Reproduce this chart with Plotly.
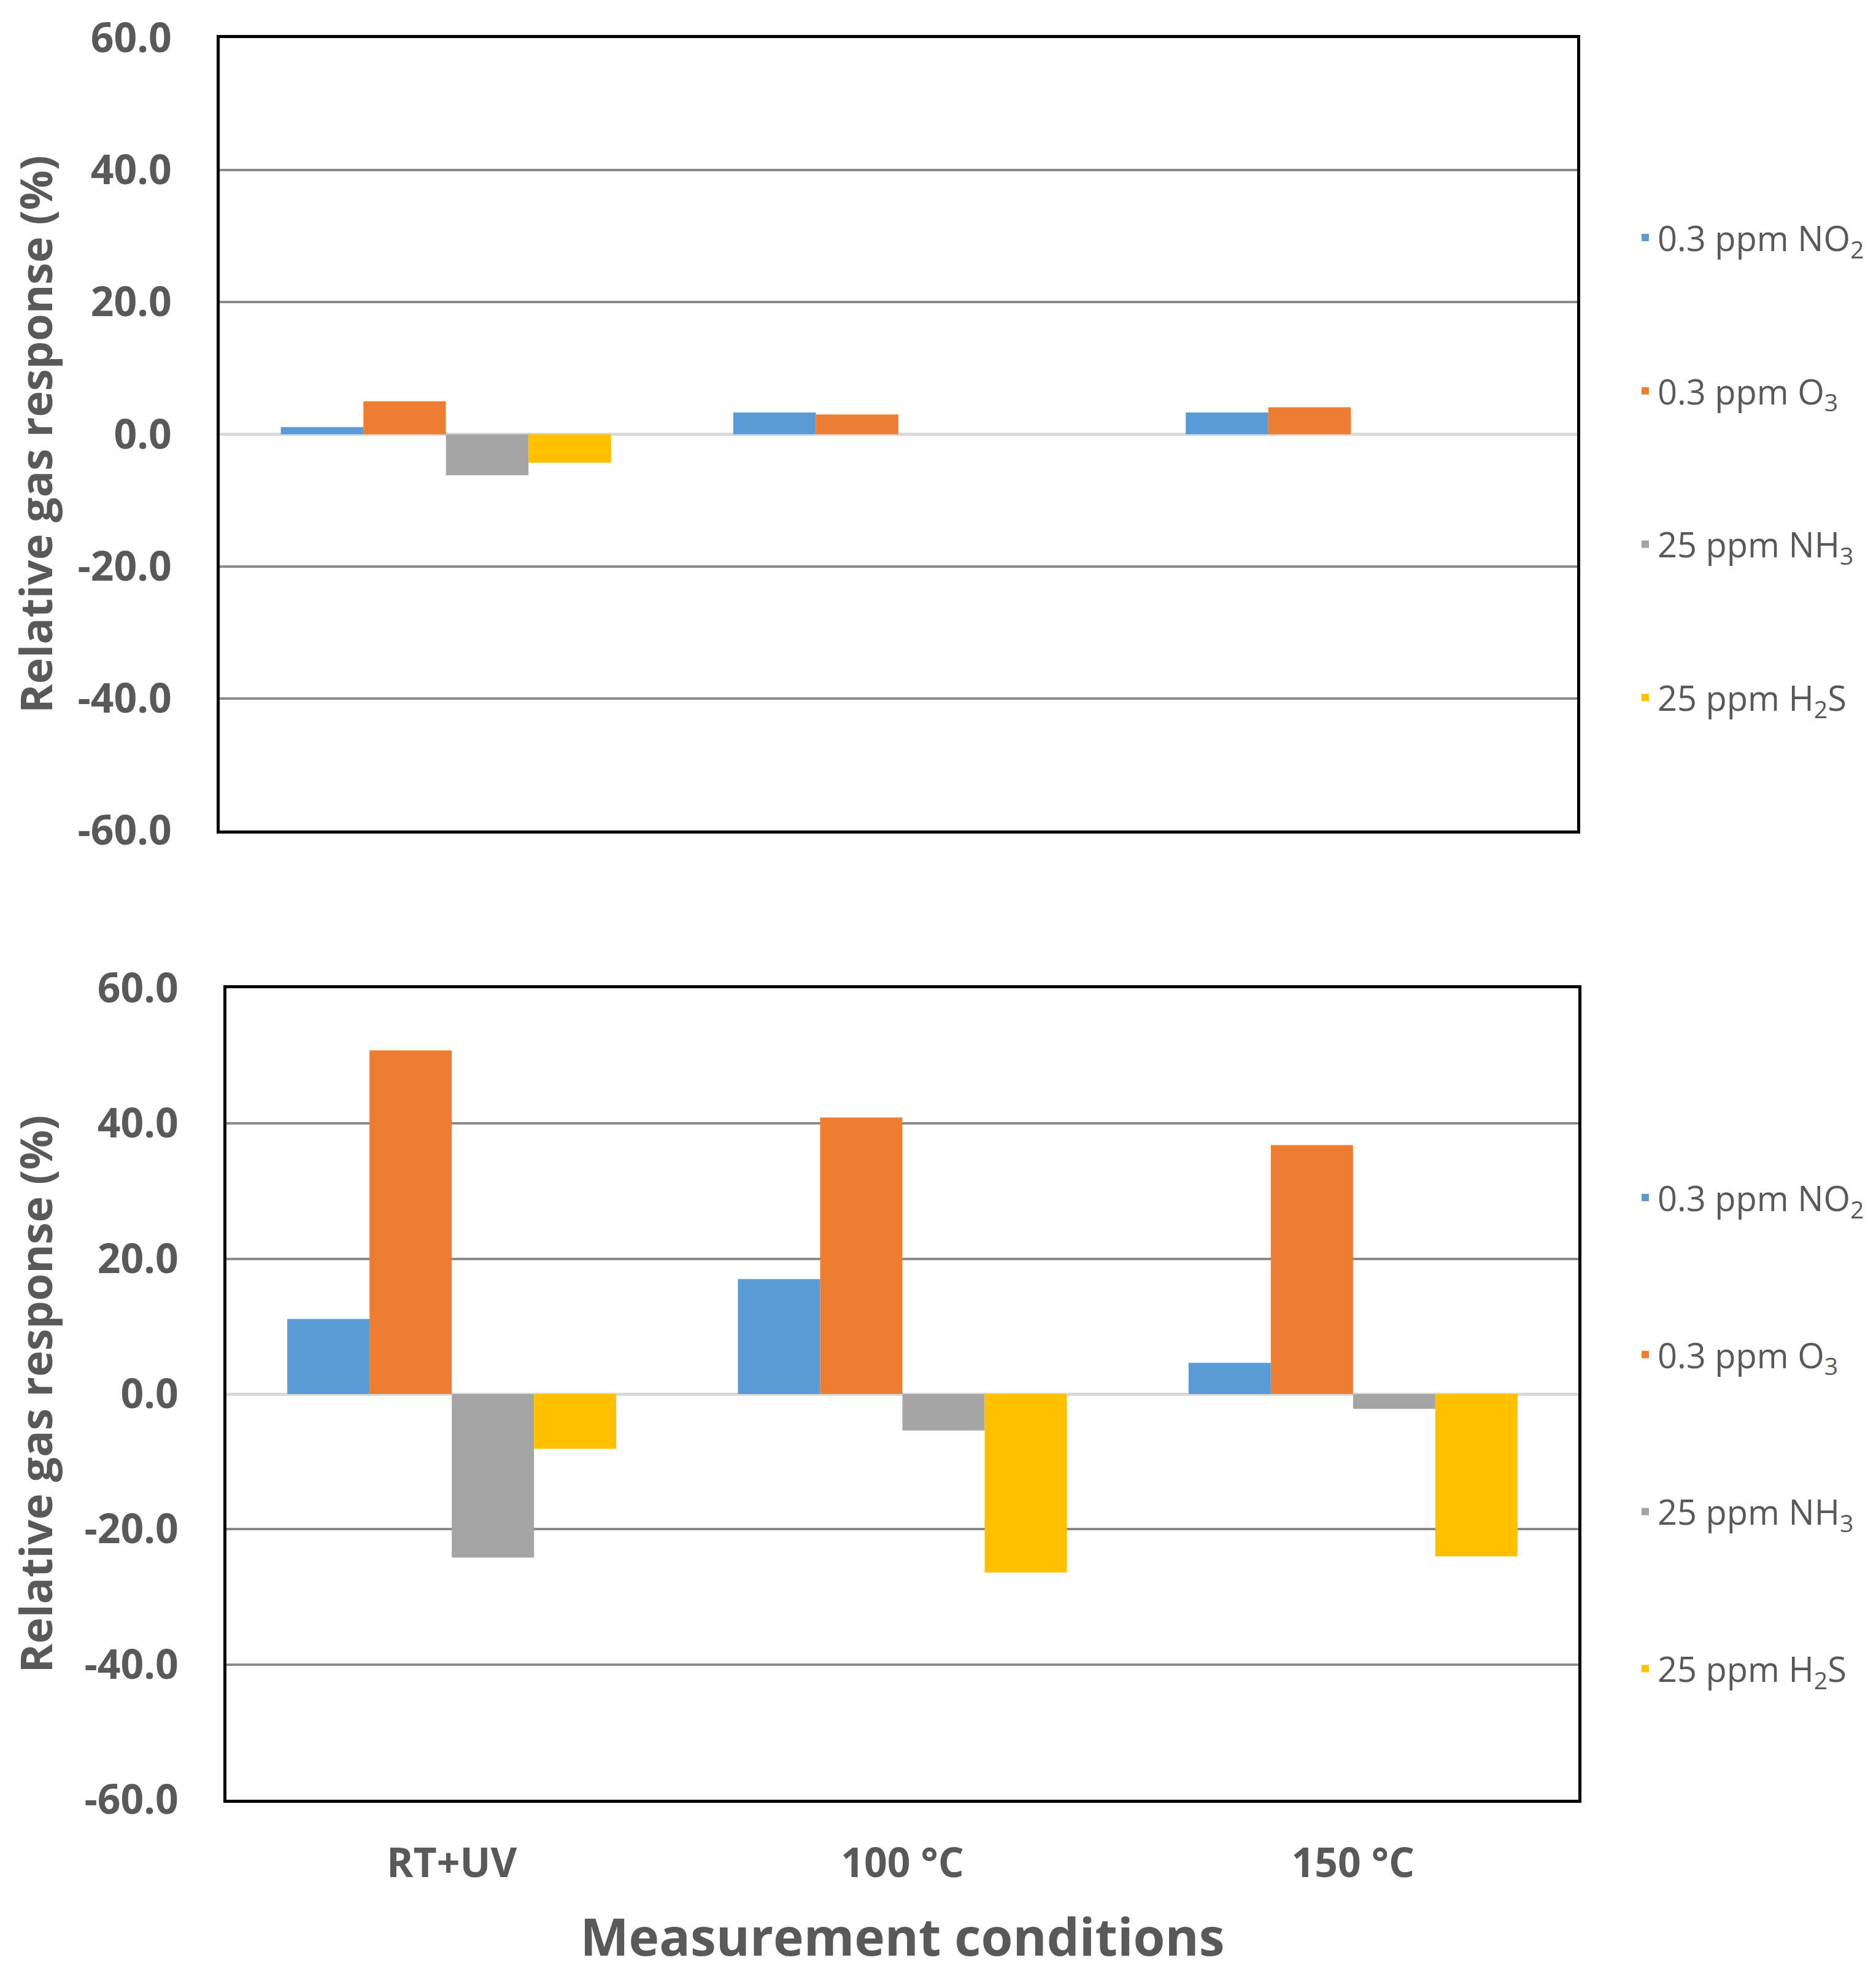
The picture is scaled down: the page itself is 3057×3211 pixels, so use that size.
import plotly.graph_objects as go

categories = ["RT+UV", "100 °C", "150 °C"]
series_names = ["0.3 ppm NO<sub>2</sub>", "0.3 ppm O<sub>3</sub>", "25 ppm NH<sub>3</sub>", "25 ppm H<sub>2</sub>S"]
colors = ["#5B9BD5", "#ED7D31", "#A5A5A5", "#FFC000"]

top_no2 = [1.1, 3.3, 3.3]
top_o3 = [5.0, 3.0, 4.1]
top_nh3 = [-6.2, 0.0, 0.0]
top_h2s = [-4.3, 0.0, 0.0]

bot_no2 = [11.1, 17.0, 4.6]
bot_o3 = [50.8, 40.9, 36.8]
bot_nh3 = [-24.2, -5.4, -2.2]
bot_h2s = [-8.1, -26.4, -24.0]

y_ticks = [-60, -40, -20, 0, 20, 40, 60]
y_ticktext = ["-60.0", "-40.0", "-20.0", "0.0", "20.0", "40.0", "60.0"]

W, H = 3057, 3211
TXT = "#595959"
FONT = "Open Sans"

fig = go.Figure()

top_series = [top_no2, top_o3, top_nh3, top_h2s]
bot_series = [bot_no2, bot_o3, bot_nh3, bot_h2s]

for i, vals in enumerate(top_series):
    fig.add_trace(go.Bar(x=categories, y=vals, name=series_names[i],
                         marker=dict(color=colors[i], line=dict(width=0)),
                         xaxis="x", yaxis="y", legend="legend",
                         legendgroup="t%d" % i))
for i, vals in enumerate(bot_series):
    fig.add_trace(go.Bar(x=categories, y=vals, name=series_names[i],
                         marker=dict(color=colors[i], line=dict(width=0)),
                         xaxis="x2", yaxis="y2", legend="legend2",
                         legendgroup="b%d" % i))

yax = dict(range=[-60, 60], tickvals=y_ticks, ticktext=y_ticktext,
           automargin=False, ticklabeloverflow="allow",
           showgrid=True, gridcolor="#8A8A8A", gridwidth=4,
           zeroline=True, zerolinecolor="#D9D9D9", zerolinewidth=5,
           showline=True, linecolor="black", linewidth=5, mirror=True,
           ticks="", ticklabelstandoff=60,
           tickfont=dict(family=FONT, size=66, color=TXT, weight="bold"),
           title=dict(text="Relative gas response (%)",
                      font=dict(family=FONT, size=72, color=TXT, weight="bold"),
                      standoff=40))
xax = dict(showline=True, linecolor="black", linewidth=5, mirror=True,
           automargin=False, ticklabeloverflow="allow",
           showgrid=False, ticks="", type="category")

legend_common = dict(font=dict(family=FONT, size=56, color=TXT),
                     traceorder="grouped",
                     xanchor="left", yanchor="middle", bgcolor="rgba(0,0,0,0)")

fig.update_layout(
    width=W, height=H,
    margin=dict(l=0, r=0, t=0, b=0),
    paper_bgcolor="white", plot_bgcolor="white",
    barmode="group", bargap=0.27, bargroupgap=0,
    xaxis=dict(xax, domain=[350 / W, 2562 / W], anchor="y", showticklabels=False),
    yaxis=dict(yax, domain=[1 - 1345 / H, 1 - 54 / H], anchor="x"),
    xaxis2=dict(xax, domain=[361 / W, 2564 / W], anchor="y2", showticklabels=True,
                ticklabelstandoff=42,
                tickfont=dict(family=FONT, size=66, color=TXT, weight="bold"),
                title=dict(text="Measurement conditions",
                           font=dict(family=FONT, size=84, color=TXT, weight="bold"),
                           standoff=52)),
    yaxis2=dict(yax, domain=[1 - 2924 / H, 1 - 1602 / H], anchor="x2"),
    legend=dict(legend_common, tracegroupgap=174, x=2653 / W, y=1 - 754 / H),
    legend2=dict(legend_common, tracegroupgap=180, x=2653 / W, y=1 - 2327 / H),
    showlegend=True,
)

fig.write_html("out.html")
